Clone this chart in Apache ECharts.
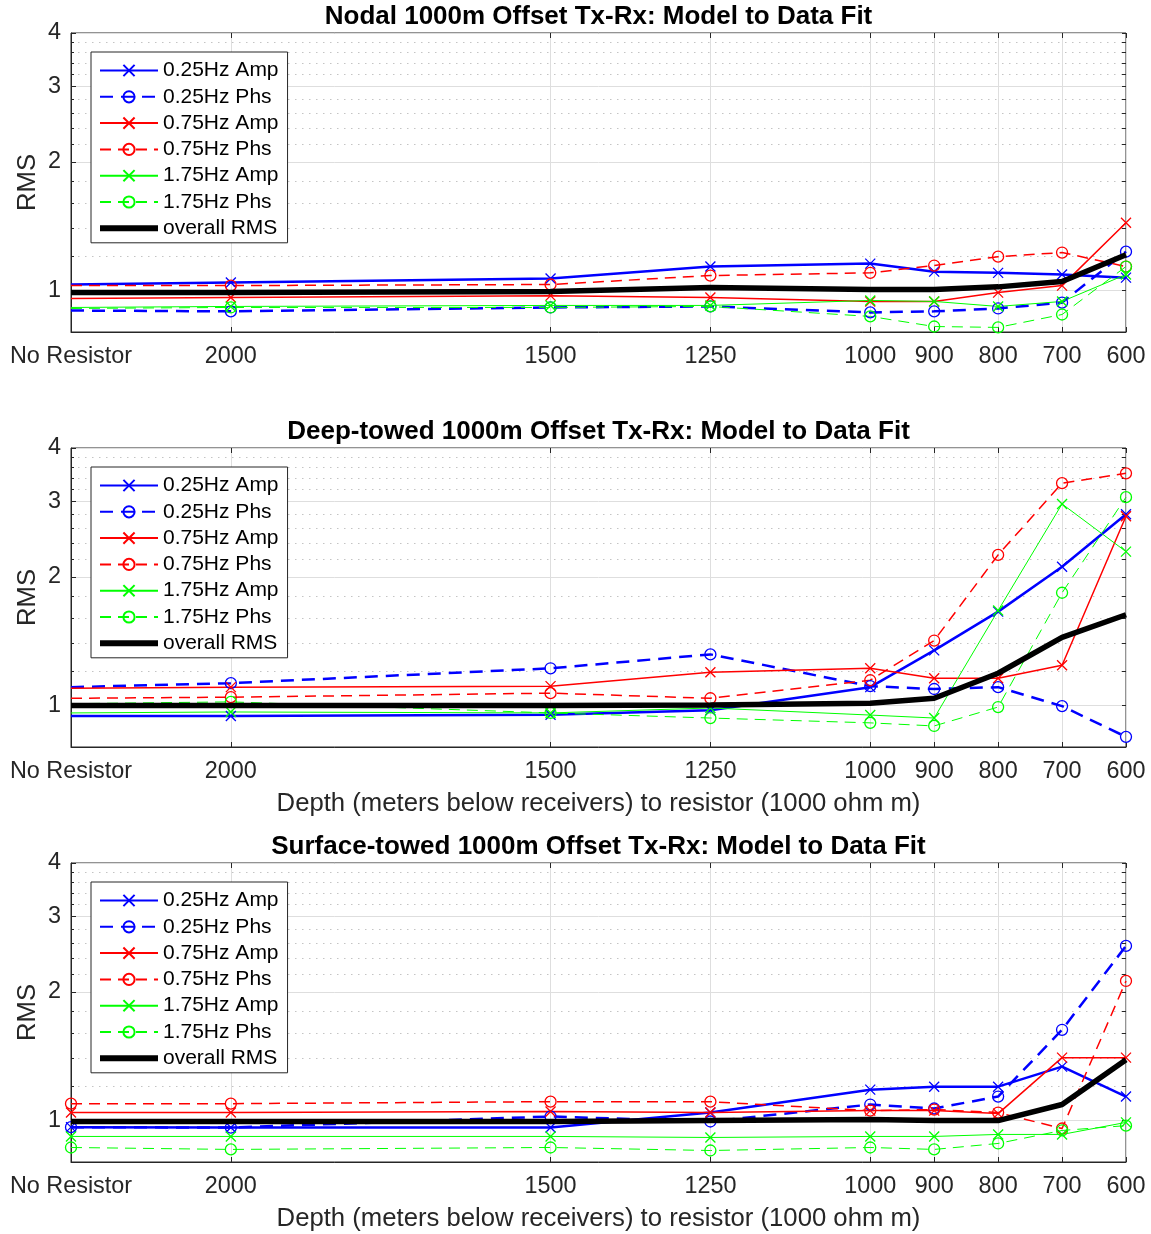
<!DOCTYPE html>
<html lang="en">
<head>
    <meta charset="UTF-8">
    <title>Model to Data Fit</title>
    <script src="https://cdn.jsdelivr.net/npm/echarts@6/dist/echarts.min.js"></script>
    <style>
        html, body { margin: 0; padding: 0; background: #fff; }
    </style>
</head>
<body>
    <div id="box" style="width: 1151px; height: 1234px;"></div>
<script>
    // depth of resistor below receivers; 2250 is where "No Resistor" sits
    var depths = [2250, 2000, 1500, 1250, 1000, 900, 800, 700, 600];
    var depthLabels = ['No Resistor', '2000', '1500', '1250', '1000', '900', '800', '700', '600'];
    var yMajorTicks = [1, 2, 3, 4];
    var yMinorTicks = [1.2, 1.4, 1.6, 1.8, 2.2, 2.4, 2.6, 2.8, 3.2, 3.4, 3.6, 3.8];
    var seriesNames = ['0.25Hz Amp', '0.25Hz Phs', '0.75Hz Amp', '0.75Hz Phs', '1.75Hz Amp', '1.75Hz Phs', 'overall RMS'];
    var titles = [
        'Nodal 1000m Offset Tx-Rx: Model to Data Fit',
        'Deep-towed 1000m Offset Tx-Rx: Model to Data Fit',
        'Surface-towed 1000m Offset Tx-Rx: Model to Data Fit'
    ];

    // Nodal
    var nodalAmp025 = [1.033, 1.044, 1.067, 1.138, 1.156, 1.107, 1.100, 1.090, 1.072];
    var nodalPhs025 = [0.898, 0.894, 0.913, 0.918, 0.889, 0.894, 0.908, 0.937, 1.233];
    var nodalAmp075 = [0.958, 0.963, 0.973, 0.963, 0.943, 0.943, 0.989, 1.027, 1.441];
    var nodalPhs075 = [1.027, 1.027, 1.033, 1.084, 1.100, 1.144, 1.200, 1.227, 1.138];
    var nodalAmp175 = [0.913, 0.918, 0.923, 0.923, 0.948, 0.943, 0.918, 0.943, 1.090];
    var nodalPhs175 = [0.908, 0.913, 0.913, 0.918, 0.870, 0.824, 0.820, 0.879, 1.138];
    var nodalOverall = [0.990, 0.990, 0.995, 1.016, 1.005, 1.005, 1.020, 1.050, 1.213];

    // Deep-towed
    var deepAmp025 = [0.945, 0.945, 0.952, 0.975, 1.104, 1.346, 1.658, 2.110, 2.800];
    var deepPhs025 = [1.104, 1.128, 1.222, 1.317, 1.110, 1.093, 1.104, 0.997, 0.845];
    var deepAmp075 = [1.098, 1.104, 1.110, 1.196, 1.222, 1.158, 1.158, 1.242, 2.770];
    var deepPhs075 = [1.040, 1.046, 1.069, 1.040, 1.146, 1.419, 2.250, 3.310, 3.490];
    var deepAmp175 = [0.961, 0.966, 0.961, 0.987, 0.950, 0.935, 1.668, 2.960, 2.290];
    var deepPhs175 = [1.010, 1.020, 0.961, 0.935, 0.911, 0.896, 0.992, 1.835, 3.070];
    var deepOverall = [1.000, 1.000, 1.000, 1.003, 1.013, 1.040, 1.190, 1.443, 1.630];

    // Surface-towed
    var surfAmp025 = [0.965, 0.963, 0.963, 1.044, 1.181, 1.200, 1.200, 1.337, 1.138];
    var surfPhs025 = [0.965, 0.963, 1.022, 0.995, 1.090, 1.067, 1.138, 1.630, 2.560];
    var surfAmp075 = [1.044, 1.044, 1.050, 1.044, 1.055, 1.055, 1.038, 1.403, 1.403];
    var surfPhs075 = [1.095, 1.095, 1.107, 1.107, 1.055, 1.061, 1.044, 0.958, 2.120];
    var surfAmp175 = [0.918, 0.918, 0.918, 0.913, 0.918, 0.918, 0.928, 0.928, 0.990];
    var surfPhs175 = [0.865, 0.856, 0.865, 0.851, 0.865, 0.856, 0.884, 0.948, 0.973];
    var surfOverall = [0.995, 0.995, 0.995, 1.000, 1.005, 1.000, 1.000, 1.090, 1.388];

    var panels = [
        [nodalAmp025, nodalPhs025, nodalAmp075, nodalPhs075, nodalAmp175, nodalPhs175, nodalOverall],
        [deepAmp025, deepPhs025, deepAmp075, deepPhs075, deepAmp175, deepPhs175, deepOverall],
        [surfAmp025, surfPhs025, surfAmp075, surfPhs075, surfAmp175, surfPhs175, surfOverall]
    ];

    var font = "'Liberation Sans', Arial, sans-serif";
    var axisColor = '#262626';
    var crossSymbol = 'path://M0,0L10,10M10,0L0,10';
    var lineStyles = [
        { color: '#0000ff', width: 2.5, type: 'solid', symbol: crossSymbol, size: 10 },
        { color: '#0000ff', width: 2.5, type: [13, 8], symbol: 'circle', size: 11 },
        { color: '#ff0000', width: 1.5, type: 'solid', symbol: crossSymbol, size: 10 },
        { color: '#ff0000', width: 1.5, type: [11, 7], symbol: 'circle', size: 11 },
        { color: '#00ff00', width: 1, type: 'solid', symbol: crossSymbol, size: 10 },
        { color: '#00ff00', width: 1, type: [11, 7], symbol: 'circle', size: 11 },
        { color: '#000000', width: 5.5, type: 'solid', symbol: 'none', size: 0 }
    ];

    var gridTops = [33, 448, 863];
    var plotHeight = 299;
    var box = echarts.init(document.getElementById('box'));

    var grid = [], xAxis = [], yAxis = [], legend = [], title = [], series = [];
    gridTops.forEach(function (top, p) {
        grid.push({
            left: 71, right: 25, top: top, height: plotHeight,
            show: true, borderColor: axisColor, borderWidth: 1, backgroundColor: '#fff'
        });
        title.push({
            text: titles[p],
            left: 598.5, top: top - 29, textAlign: 'center', padding: 0,
            textStyle: { fontFamily: font, fontSize: 26, fontWeight: 'bold', color: '#000' }
        });
        // bottom axis with labels
        xAxis.push({
            type: 'value', gridIndex: p, inverse: true, min: 600, max: 2250, position: 'bottom',
            name: p > 0 ? 'Depth (meters below receivers) to resistor (1000 ohm m)' : '',
            nameLocation: 'middle', nameGap: 44,
            nameTextStyle: { fontFamily: font, fontSize: 25.7, color: axisColor },
            axisLine: { show: true, lineStyle: { color: axisColor, width: 1 } },
            axisTick: { show: true, inside: true, length: 5, customValues: depths, lineStyle: { color: axisColor } },
            axisLabel: {
                customValues: depths, margin: 13,
                fontFamily: font, fontSize: 23.4, color: axisColor,
                formatter: function (v) { return depthLabels[depths.indexOf(v)]; }
            },
            splitLine: { show: true, lineStyle: { color: '#dedede', width: 1 } }
        });
        // top axis, ticks only
        xAxis.push({
            type: 'value', gridIndex: p, inverse: true, min: 600, max: 2250, position: 'top',
            axisLine: { show: false },
            axisTick: { show: true, inside: true, length: 5, customValues: depths, lineStyle: { color: axisColor } },
            axisLabel: { show: false },
            splitLine: { show: false }
        });
        yAxis.push({
            type: 'log', gridIndex: p, min: 0.8, max: 4, position: 'left',
            name: 'RMS', nameLocation: 'middle', nameGap: 30, nameMoveOverlap: false,
            nameTextStyle: { fontFamily: font, fontSize: 25.7, color: axisColor },
            axisLine: { show: true, lineStyle: { color: axisColor, width: 1 } },
            axisTick: { show: true, inside: true, length: 5, customValues: yMajorTicks, lineStyle: { color: axisColor } },
            axisLabel: { customValues: yMajorTicks, margin: 10, fontFamily: font, fontSize: 23.4, color: axisColor },
            splitLine: { show: true, lineStyle: { color: '#dedede', width: 1 } }
        });
        yAxis.push({
            type: 'log', gridIndex: p, min: 0.8, max: 4, position: 'left',
            axisLine: { show: false },
            axisTick: { show: true, inside: true, length: 3, customValues: yMinorTicks, lineStyle: { color: axisColor } },
            axisLabel: { show: false },
            splitLine: { show: true, lineStyle: { color: '#c4c4c4', width: 1, type: [1.5, 5.5] } }
        });
        yAxis.push({
            type: 'log', gridIndex: p, min: 0.8, max: 4, position: 'right',
            axisLine: { show: false },
            axisTick: { show: true, inside: true, length: 4, customValues: yMajorTicks.concat(yMinorTicks), lineStyle: { color: axisColor } },
            axisLabel: { show: false },
            splitLine: { show: false }
        });
        legend.push({
            data: seriesNames.map(function (n, s) {
                return s === 6 ? { name: n, lineStyle: { width: 6 } } : n;
            }),
            orient: 'vertical', left: 91, top: top + 19,
            itemWidth: 58, itemHeight: 14, itemGap: 5.3,
            padding: [8, 9, 4, 6],
            backgroundColor: '#fff', borderColor: axisColor, borderWidth: 1, borderRadius: 0,
            selectedMode: false,
            textStyle: { fontFamily: font, fontSize: 21, lineHeight: 20, color: '#000' }
        });
        panels[p].forEach(function (values, s) {
            var st = lineStyles[s];
            var hollow = st.symbol !== crossSymbol;
            series.push({
                name: seriesNames[s],
                type: 'line',
                xAxisIndex: p * 2,
                yAxisIndex: p * 3,
                symbol: st.symbol,
                symbolSize: st.size,
                showSymbol: st.symbol !== 'none',
                lineStyle: { color: st.color, width: st.width, type: st.type },
                itemStyle: {
                    color: hollow ? 'rgba(0,0,0,0)' : st.color,
                    borderColor: st.symbol === 'none' ? 'rgba(0,0,0,0)' : st.color,
                    borderWidth: st.symbol === 'none' ? 0 : 1.3
                },
                emphasis: { disabled: true },
                animation: false,
                z: s === 6 ? 3 : 2,
                data: values.map(function (v, i) {
                    // the nodal and deep-towed runs show no marker at "No Resistor"
                    if (i === 0 && p < 2) return { value: [depths[i], v], symbol: 'none' };
                    return [depths[i], v];
                })
            });
        });
    });

    box.setOption({
        animation: false,
        backgroundColor: '#fff',
        title: title,
        grid: grid,
        legend: legend,
        xAxis: xAxis,
        yAxis: yAxis,
        series: series
    });
</script>
</body>
</html>
